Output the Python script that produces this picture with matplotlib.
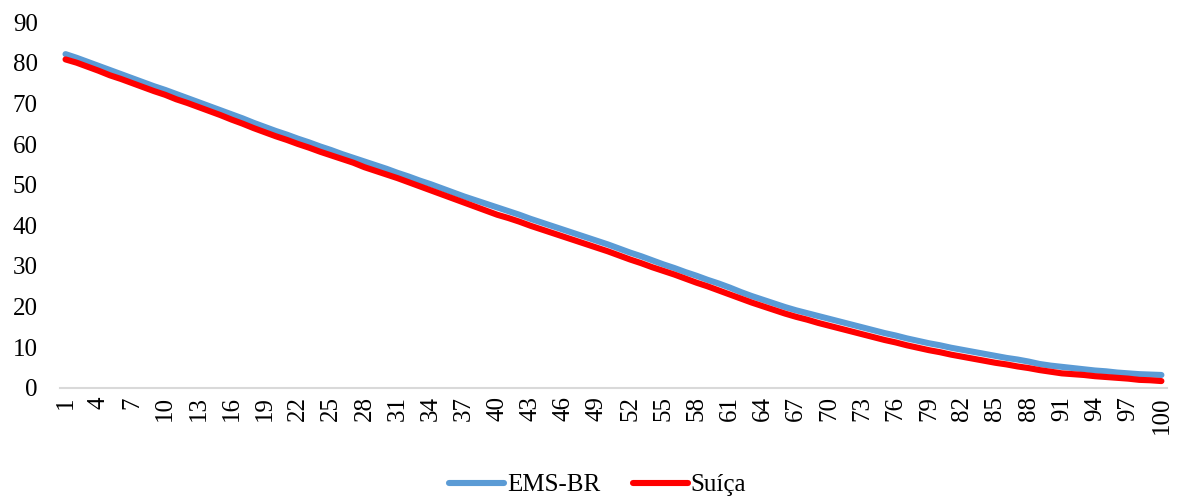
import matplotlib
matplotlib.use("Agg")
import matplotlib.pyplot as plt

# expectativa de vida por idade (1 a 100)
idades = list(range(1, 101))

ems_br = [
    82.1, 81.2, 80.2, 79.2, 78.2, 77.2, 76.2, 75.2, 74.2, 73.3,
    72.3, 71.3, 70.3, 69.3, 68.3, 67.3, 66.3, 65.2, 64.2, 63.2,
    62.3, 61.3, 60.4, 59.4, 58.5, 57.5, 56.6, 55.7, 54.8, 53.9,
    52.9, 52.0, 51.0, 50.1, 49.1, 48.1, 47.1, 46.2, 45.3, 44.4,
    43.5, 42.6, 41.6, 40.7, 39.8, 38.9, 38.0, 37.1, 36.2, 35.3,
    34.3, 33.3, 32.4, 31.4, 30.4, 29.5, 28.5, 27.6, 26.6, 25.7,
    24.7, 23.6, 22.6, 21.7, 20.8, 19.9, 19.1, 18.4, 17.7, 17.0,
    16.3, 15.6, 14.9, 14.2, 13.5, 12.9, 12.2, 11.6, 11.0, 10.5,
    9.9, 9.4, 8.9, 8.4, 7.9, 7.4, 7.0, 6.5, 5.9, 5.5,
    5.2, 4.9, 4.6, 4.3, 4.1, 3.8, 3.6, 3.4, 3.3, 3.2,
]

suica = [
    80.8, 80.0, 79.0, 78.0, 76.9, 76.0, 75.0, 74.0, 73.0, 72.1,
    71.0, 70.1, 69.1, 68.1, 67.1, 66.0, 65.0, 63.9, 62.9, 61.9,
    61.0, 60.0, 59.1, 58.1, 57.2, 56.3, 55.4, 54.3, 53.4, 52.5,
    51.6, 50.6, 49.6, 48.6, 47.6, 46.6, 45.6, 44.6, 43.6, 42.6,
    41.8, 40.9, 39.9, 39.0, 38.1, 37.2, 36.3, 35.4, 34.5, 33.6,
    32.6, 31.6, 30.7, 29.7, 28.8, 27.9, 26.9, 25.9, 25.0, 24.0,
    23.0, 22.0, 21.0, 20.1, 19.2, 18.3, 17.5, 16.8, 16.0, 15.3,
    14.6, 13.9, 13.2, 12.5, 11.8, 11.2, 10.5, 9.9, 9.3, 8.8,
    8.2, 7.7, 7.2, 6.7, 6.2, 5.8, 5.3, 4.9, 4.4, 4.0,
    3.6, 3.4, 3.2, 2.9, 2.7, 2.5, 2.3, 2.0, 1.9, 1.7,
]

rotulos_x = [str(i) for i in range(1, 101, 3)]
rotulos_y = list(range(0, 91, 10))

plt.rcParams['font.family'] = ['Liberation Serif', 'DejaVu Serif']

fig = plt.figure(figsize=(11.81, 4.98), dpi=100)
ax = fig.add_axes([0.0508, 0.2209, 0.9373, 0.7349])

ax.plot(idades, ems_br, color='#5B9BD5', linewidth=4.4, label='EMS-BR',
        solid_capstyle='round', solid_joinstyle='round')
ax.plot(idades, suica, color='#FF0000', linewidth=4.4, label='Suíça',
        solid_capstyle='round', solid_joinstyle='round')

ax.set_xlim(0.5, 100.5)
ax.set_ylim(0, 90)
ax.set_xticks(range(1, 101, 3))
ax.set_xticklabels(rotulos_x, rotation=90)
ax.set_yticks(rotulos_y)

ax.tick_params(axis='both', length=0, labelsize=18, colors='#000000')
ax.tick_params(axis='y', pad=16)
ax.tick_params(axis='x', pad=6)

for lado in ['top', 'right', 'left']:
    ax.spines[lado].set_visible(False)
ax.spines['bottom'].set_color('#D9D9D9')
ax.spines['bottom'].set_linewidth(1.5)

fig.legend(loc='center', bbox_to_anchor=(0.506, 0.026), ncol=2, frameon=False,
           fontsize=18, handlelength=2.2, handletextpad=0.1, columnspacing=1.3)

fig.savefig('out.png', dpi=100)
